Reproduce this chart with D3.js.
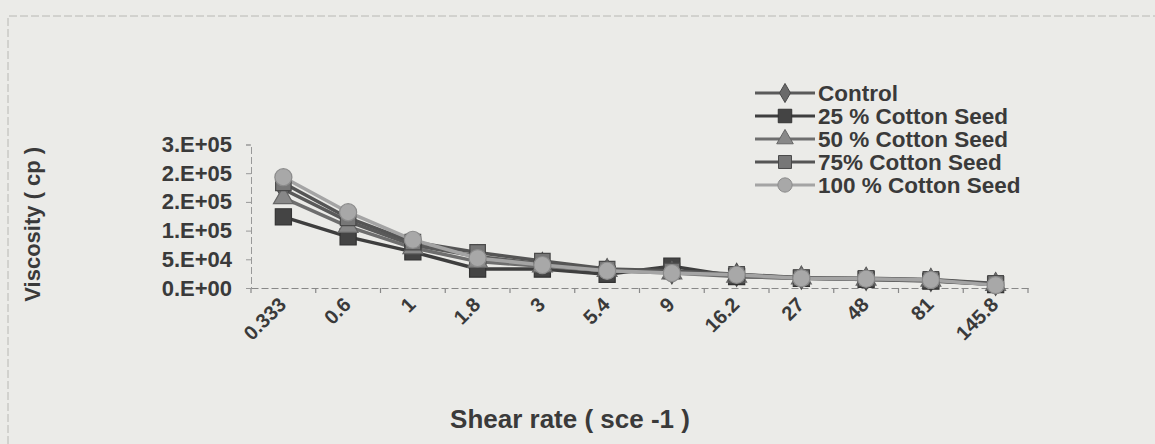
<!DOCTYPE html>
<html>
<head>
<meta charset="utf-8">
<script src="https://cdn.jsdelivr.net/npm/d3@7"></script>
<style>
  body { margin: 0; background: #ebebe8; }
  svg { display: block; }
  text { font-family: "Liberation Sans", Arial, sans-serif; font-weight: bold; fill: #3a3a3a; }
</style>
</head>
<body>
<div id="chart"></div>
<script>
const WIDTH = 1155;
const HEIGHT = 444;

// shear rate categories (sce -1)
const shearRates = ['0.333', '0.6', '1', '1.8', '3', '5.4', '9', '16.2', '27', '48', '81', '145.8'];

// viscosity (cp) per mix
const control = [172000, 116000, 75000, 55000, 42000, 31000, 27000, 23000, 18000, 16000, 14000, 7000];
const cotton25 = [124000, 89000, 63000, 33000, 33000, 24000, 38000, 20000, 17000, 15000, 12000, 6000];
const cotton50 = [157000, 107000, 70000, 46000, 38000, 30000, 26000, 20000, 17000, 15000, 13000, 6000];
const cotton75 = [183000, 122000, 80000, 62000, 47000, 33000, 30000, 24000, 18000, 17000, 15000, 8000];
const cotton100 = [193000, 132000, 84000, 52000, 40000, 30000, 26000, 23000, 17000, 16000, 14000, 5000];

const seriesNames = ['Control', '25 % Cotton Seed', '50 % Cotton Seed', '75% Cotton Seed', '100 % Cotton Seed'];

// y axis ticks as Excel printed them (0.E+00 format)
const yTicks = [0, 50000, 100000, 150000, 200000, 250000];
const yTickLabels = ['0.E+00', '5.E+04', '1.E+05', '2.E+05', '2.E+05', '3.E+05'];

const styles = [
    {shape: d3.symbolDiamond, line: '#5a5a5a', fill: '#6a6a6a', stroke: '#4a4a4a', size: 150},
    {shape: d3.symbolSquare, line: '#3e3e3e', fill: '#444', stroke: '#333', size: 260},
    {shape: d3.symbolTriangle, line: '#6e6e6e', fill: '#888', stroke: '#666', size: 170},
    {shape: d3.symbolSquare, line: '#555', fill: '#777', stroke: '#4a4a4a', size: 240},
    {shape: d3.symbolCircle, line: '#a4a4a4', fill: '#a8a8a8', stroke: '#8c8c8c', size: 230}
];

const series = [control, cotton25, cotton50, cotton75, cotton100].map((values, i) => ({
    name: seriesNames[i],
    values: values,
    style: styles[i]
}));

const plot = {left: 251, right: 1028, top: 144.5, bottom: 288};

const svg = d3.select('#chart').append('svg')
    .attr('width', WIDTH)
    .attr('height', HEIGHT);

svg.append('rect')
    .attr('width', WIDTH)
    .attr('height', HEIGHT)
    .attr('fill', '#ebebe8');

// faint frame of the original chart box
svg.append('path')
    .attr('d', 'M8 ' + HEIGHT + 'L8 16L' + WIDTH + ' 16')
    .attr('fill', 'none')
    .attr('stroke', '#b8b8b4')
    .attr('stroke-width', 1)
    .attr('stroke-dasharray', '8,3');

const x = d3.scaleBand()
    .domain(shearRates)
    .range([plot.left, plot.right]);

const y = d3.scaleLinear()
    .domain([0, 250000])
    .range([plot.bottom, plot.top]);

// x axis
const xAxis = svg.append('g')
    .attr('transform', 'translate(0,' + plot.bottom + ')')
    .call(d3.axisBottom(x).tickSize(0).tickPadding(0).tickFormat(''));
xAxis.select('.domain')
    .attr('stroke', '#888')
    .attr('stroke-width', 1.2)
    .attr('stroke-dasharray', '7,3');

// category boundary ticks
svg.append('g').selectAll('line')
    .data(d3.range(shearRates.length + 1))
    .join('line')
    .attr('x1', i => plot.left + i * x.step())
    .attr('x2', i => plot.left + i * x.step())
    .attr('y1', plot.bottom)
    .attr('y2', plot.bottom + 5)
    .attr('stroke', '#888')
    .attr('stroke-width', 1.2);

svg.append('g').selectAll('text')
    .data(shearRates)
    .join('text')
    .attr('transform', d => 'translate(' + (x(d) + x.bandwidth() / 2 + 4) + ',' + (plot.bottom + 18) + ') rotate(-45)')
    .attr('text-anchor', 'end')
    .attr('font-size', 20)
    .text(d => d);

// y axis
const yAxis = svg.append('g')
    .attr('transform', 'translate(' + plot.left + ',0)')
    .call(d3.axisLeft(y)
        .tickValues(yTicks)
        .tickSize(5)
        .tickPadding(14)
        .tickFormat((d, i) => yTickLabels[i]));
yAxis.select('.domain')
    .attr('stroke', '#999')
    .attr('stroke-width', 1)
    .attr('stroke-dasharray', '7,3');
yAxis.selectAll('.tick line').attr('stroke', '#999');
yAxis.selectAll('.tick text')
    .attr('font-size', 22)
    .attr('font-family', '"Liberation Sans", Arial, sans-serif')
    .attr('fill', '#3a3a3a');

// axis titles
svg.append('text')
    .attr('transform', 'translate(40,' + ((plot.top + plot.bottom) / 2 + 8) + ') rotate(-90)')
    .attr('text-anchor', 'middle')
    .attr('font-size', 22)
    .text('Viscosity ( cp )');

svg.append('text')
    .attr('x', 570)
    .attr('y', 428)
    .attr('text-anchor', 'middle')
    .attr('font-size', 26)
    .text('Shear rate ( sce -1 )');

// lines and markers
const line = d3.line()
    .x((d, i) => x(shearRates[i]) + x.bandwidth() / 2)
    .y(d => y(d));

series.forEach(s => {
    svg.append('path')
        .attr('d', line(s.values))
        .attr('fill', 'none')
        .attr('stroke', s.style.line)
        .attr('stroke-width', 3.5);
});

series.forEach(s => {
    svg.append('g').selectAll('path')
        .data(s.values)
        .join('path')
        .attr('transform', (d, i) => 'translate(' + (x(shearRates[i]) + x.bandwidth() / 2) + ',' + y(d) + ')')
        .attr('d', d3.symbol().type(s.style.shape).size(s.style.size))
        .attr('fill', s.style.fill)
        .attr('stroke', s.style.stroke)
        .attr('stroke-width', 1.2);
});

// legend
const legend = svg.append('g')
    .attr('transform', 'translate(755,93)');

const legendRow = legend.selectAll('g')
    .data(series)
    .join('g')
    .attr('transform', (d, i) => 'translate(0,' + i * 23 + ')');

legendRow.append('line')
    .attr('x1', 0)
    .attr('x2', 60)
    .attr('stroke', d => d.style.line)
    .attr('stroke-width', 3);

legendRow.append('path')
    .attr('transform', 'translate(30,0)')
    .attr('d', d => d3.symbol().type(d.style.shape).size(d.style.size * 0.7)())
    .attr('fill', d => d.style.fill)
    .attr('stroke', d => d.style.stroke);

legendRow.append('text')
    .attr('x', 63)
    .attr('y', 8)
    .attr('font-size', 22.5)
    .text(d => d.name);
</script>
</body>
</html>
